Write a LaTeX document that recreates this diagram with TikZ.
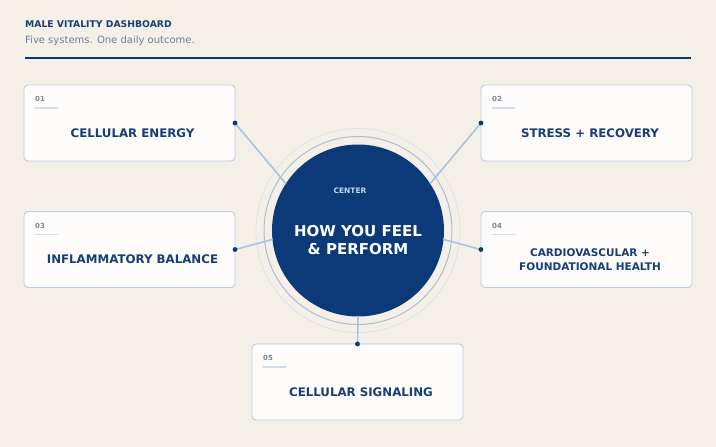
\documentclass[tikz,border=0pt]{standalone}
\usepackage{fontspec}
\setmainfont{DejaVu Sans}
\definecolor{paper}{HTML}{F4F0E8}
\definecolor{card}{HTML}{FDFCFA}
\definecolor{cardline}{HTML}{B9CCE3}
\definecolor{navy}{HTML}{0C3A78}
\definecolor{ink}{HTML}{173F74}
\definecolor{link}{HTML}{A8C2E0}
\definecolor{ringa}{HTML}{A9BFDA}
\definecolor{ringb}{HTML}{DAE3EF}
\definecolor{subgray}{HTML}{6E7F99}
\definecolor{numgray}{HTML}{7A8699}
\definecolor{tick}{HTML}{D2DEEE}
\definecolor{centertxt}{HTML}{C5D6EE}
\begin{document}
\begin{tikzpicture}[x=1pt,y=-1pt,line join=round,line cap=round,>=stealth,
  card/.style={draw=cardline,line width=0.9pt,fill=card,rounded corners=4pt,
    minimum width=211pt,minimum height=76pt,outer sep=0pt},
  cardtitle/.style={text=ink,font=\bfseries\fontsize{11.8}{14}\selectfont,align=center},
  cardnum/.style={text=numgray,font=\bfseries\fontsize{7}{8}\selectfont,anchor=west,inner sep=0pt},
  link/.style={draw=link,line width=1.6pt},
  hub/.style={circle,fill=navy,minimum size=172pt,inner sep=0pt,outer sep=0pt}]
  \useasboundingbox (0,0) rectangle (716,447);
  \fill[paper] (0,0) rectangle (716,447);
  %%Tiêu đề
  \node[anchor=west,inner sep=0pt,text=ink,font=\bfseries\fontsize{9.25}{11}\selectfont] (head) at (25,24) {MALE VITALITY DASHBOARD};
  \node[anchor=west,inner sep=0pt,text=subgray,font=\fontsize{10}{12}\selectfont] (sub) at (25,41) {Five systems. One daily outcome.};
  \coordinate (ruleL) at (25,58);
  \coordinate (ruleR) at (691,58);
  \draw[navy,line width=1.4pt,line cap=butt] (ruleL)--(ruleR);
  %%Các vòng quanh tâm
  \coordinate (O) at (358,230.5);
  \draw[ringb,line width=0.8pt] (O) circle[radius=102pt];
  \draw[ringa,line width=1pt] (O) circle[radius=94pt];
  \node[hub] (core) at (O) {};
  \node[text=centertxt,font=\bfseries\fontsize{7.5}{9}\selectfont] (tag) at (350,191) {CENTER};
  \node[text=white,font=\bfseries\fontsize{15}{18}\selectfont,align=center] (feel) at (358,240) {HOW YOU FEEL\\\& PERFORM};
  %%Các thẻ
  \node[card] (c1) at (129.5,123) {};
  \node[card] (c2) at (586.5,123) {};
  \node[card] (c3) at (129.5,249.5) {};
  \node[card] (c4) at (586.5,249.5) {};
  \node[card] (c5) at (357.5,382) {};
  \foreach \c/\n in {c1/01,c2/02,c3/03,c4/04,c5/05}{
    \node[cardnum] (\c num) at ([shift={(11,14)}]\c.north west) {\n};
    \draw[tick,line width=1.3pt] ([shift={(11,23)}]\c.north west)--([shift={(34,23)}]\c.north west);
  }
  \node[cardtitle] (t1) at ([shift={(3,10)}]c1.center) {CELLULAR ENERGY};
  \node[cardtitle] (t2) at ([shift={(3.5,10)}]c2.center) {STRESS + RECOVERY};
  \node[cardtitle] (t3) at ([shift={(3,10)}]c3.center) {INFLAMMATORY BALANCE};
  \node[cardtitle,font=\bfseries\fontsize{10.5}{14}\selectfont] (t4) at ([shift={(3.5,10.5)}]c4.center) {CARDIOVASCULAR +\\FOUNDATIONAL HEALTH};
  \node[cardtitle] (t5) at ([shift={(3.5,10)}]c5.center) {CELLULAR SIGNALING};
  %%Nối thẻ với tâm
  \draw[link] (c1.east)--(core.147) (c2.west)--(core.33)
    (c3.east)--(core.186) (c4.west)--(core.-6) (c5.north)--(core.south);
  \fill[navy] (c1.east)circle(2.4pt) (c2.west)circle(2.4pt) (c3.east)circle(2.4pt)
    (c4.west)circle(2.4pt) (c5.north)circle(2.4pt);
\end{tikzpicture}
\end{document}
